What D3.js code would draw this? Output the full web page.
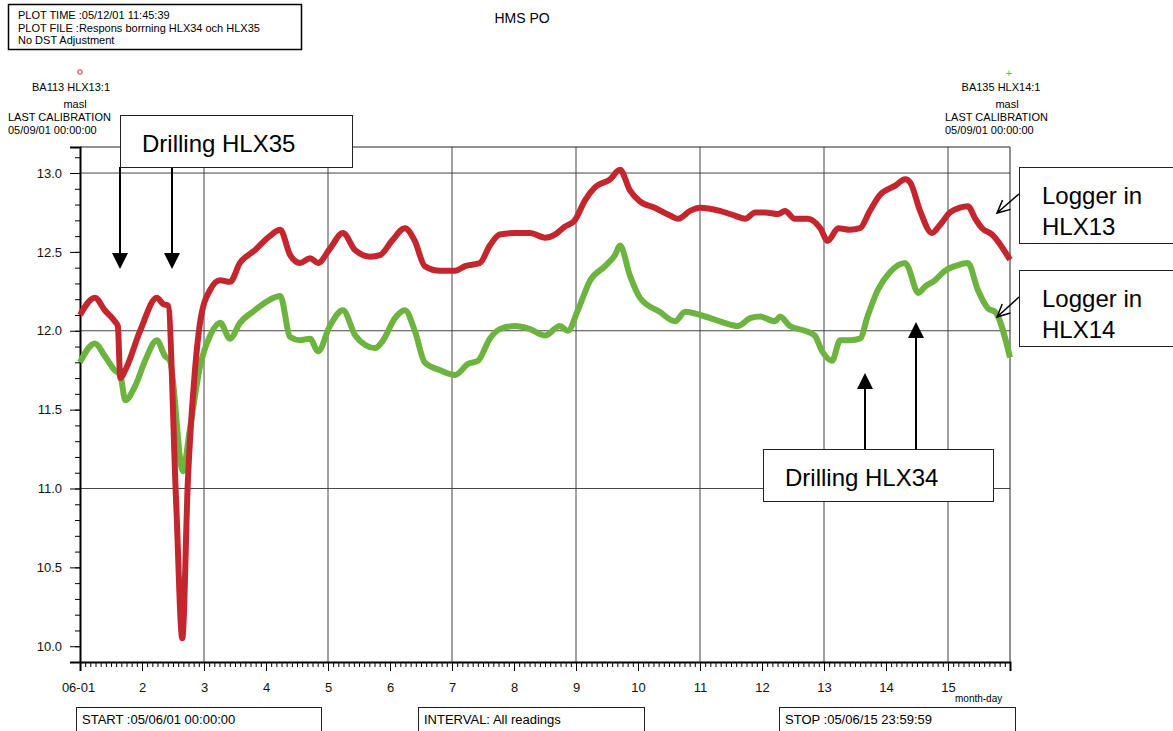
<!DOCTYPE html>
<html>
<head>
<meta charset="utf-8">
<script src="https://cdn.jsdelivr.net/npm/d3@7"></script>
<style>
  body { margin: 0; background: #fff; }
  svg { font-family: "Liberation Sans", Arial, sans-serif; }
</style>
</head>
<body>
<div id="chart"></div>
<script>
// day of June (fractional) and water level (masl)
const redDays = [1.00,1.24,1.40,1.56,1.61,1.65,1.73,1.97,2.24,2.34,2.42,2.55,2.65,2.74,2.84,2.94,3.10,3.26,3.42,3.58,3.82,4.06,4.23,4.39,4.55,4.71,4.84,5.03,5.24,5.44,5.68,5.84,6.03,6.24,6.40,6.56,6.81,7.05,7.21,7.45,7.61,7.77,8.02,8.26,8.50,8.66,8.82,8.98,9.15,9.31,9.55,9.71,9.87,10.03,10.27,10.52,10.65,10.84,11.00,11.32,11.56,11.73,11.89,12.05,12.26,12.37,12.53,12.74,12.94,13.06,13.23,13.42,13.58,13.74,13.90,14.15,14.31,14.39,14.55,14.74,14.87,15.03,15.19,15.32,15.44,15.55,15.71,16.00];
const redLevels = [12.10,12.21,12.13,12.06,12.03,11.70,11.75,12.00,12.21,12.17,12.16,10.92,10.05,11.05,11.68,12.06,12.26,12.32,12.31,12.43,12.51,12.60,12.64,12.48,12.43,12.46,12.43,12.52,12.62,12.51,12.47,12.48,12.57,12.65,12.57,12.41,12.38,12.38,12.41,12.43,12.54,12.61,12.62,12.62,12.59,12.61,12.66,12.70,12.83,12.91,12.96,13.02,12.89,12.82,12.78,12.73,12.71,12.76,12.78,12.76,12.73,12.71,12.75,12.75,12.74,12.76,12.71,12.71,12.65,12.57,12.65,12.64,12.65,12.76,12.86,12.92,12.96,12.94,12.76,12.62,12.67,12.75,12.78,12.79,12.71,12.65,12.61,12.45];

const greenDays = [1.00,1.24,1.40,1.56,1.65,1.73,1.89,2.05,2.24,2.37,2.45,2.66,2.77,2.94,3.10,3.26,3.42,3.58,3.82,4.03,4.23,4.39,4.55,4.71,4.84,5.03,5.24,5.44,5.60,5.76,5.89,6.08,6.24,6.40,6.56,6.81,7.05,7.26,7.42,7.61,7.77,8.02,8.26,8.50,8.74,8.87,9.03,9.23,9.47,9.63,9.71,9.87,10.03,10.35,10.60,10.76,11.00,11.32,11.61,11.81,11.97,12.21,12.29,12.45,12.69,12.85,12.97,13.13,13.26,13.42,13.58,13.71,13.87,14.06,14.31,14.35,14.52,14.63,14.79,14.95,15.11,15.32,15.48,15.65,15.76,16.00];
const greenLevels = [11.80,11.92,11.84,11.75,11.72,11.56,11.65,11.81,11.94,11.84,11.81,11.11,11.37,11.78,11.97,12.05,11.95,12.05,12.13,12.19,12.22,11.96,11.94,11.95,11.87,12.03,12.13,11.97,11.91,11.89,11.94,12.08,12.13,12.00,11.80,11.75,11.72,11.79,11.81,11.95,12.01,12.03,12.01,11.97,12.03,12.00,12.13,12.32,12.41,12.48,12.54,12.35,12.21,12.12,12.06,12.12,12.10,12.06,12.03,12.08,12.09,12.06,12.09,12.03,12.00,11.97,11.87,11.81,11.94,11.94,11.95,12.10,12.26,12.37,12.43,12.41,12.24,12.28,12.32,12.38,12.41,12.43,12.26,12.14,12.12,11.83];

const xTickDays = [1,2,3,4,5,6,7,8,9,10,11,12,13,14,15];
const xTickLabels = ["06-01","2","3","4","5","6","7","8","9","10","11","12","13","14","15"];
const xGridDays = [3,5,7,9,11,13,15];
const yMajorTicks = [10.0,10.5,11.0,11.5,12.0,12.5,13.0];
const yGridValues = [11.0,12.0,13.0];

const headerLines = ["PLOT TIME :05/12/01 11:45:39","PLOT FILE :Respons borrning HLX34 och HLX35","No DST Adjustment"];

const W = 1173, H = 731;
const pLeft = 80, pRight = 1010, pTop = 147, pBottom = 662;
const redColor = "#c4262e", greenColor = "#6db33f";

const svg = d3.select("#chart").append("svg")
  .attr("width", W).attr("height", H);

const x = d3.scaleLinear().domain([1, 16]).range([pLeft, pRight]);
const y = d3.scaleLinear().domain([9.9, 13.165]).range([pBottom, pTop]);

// grid
svg.append("g").selectAll("line").data(yGridValues).enter().append("line")
  .attr("x1", pLeft).attr("x2", pRight)
  .attr("y1", d => y(d)).attr("y2", d => y(d))
  .attr("stroke", "#444").attr("stroke-width", 1);
svg.append("g").selectAll("line").data(xGridDays).enter().append("line")
  .attr("x1", d => x(d)).attr("x2", d => x(d))
  .attr("y1", pTop).attr("y2", pBottom)
  .attr("stroke", "#444").attr("stroke-width", 1);
// frame top / right
svg.append("path")
  .attr("d", `M${pLeft},${pTop}H${pRight}V${pBottom}`)
  .attr("fill", "none").attr("stroke", "#222").attr("stroke-width", 1);

// y axis, minor + major ticks
const yMinor = d3.range(100, 132).map(v => v / 10);
svg.append("g").attr("transform", `translate(${pLeft},0)`)
  .call(d3.axisLeft(y).tickValues(yMinor).tickSize(5).tickFormat(""))
  .call(g => g.select(".domain").remove());
const yAx = svg.append("g").attr("transform", `translate(${pLeft},0)`)
  .call(d3.axisLeft(y).tickValues(yMajorTicks).tickSize(10).tickPadding(8).tickFormat(d3.format(".1f")));
yAx.select(".domain").attr("stroke-width", 2);
yAx.selectAll("text").attr("font-size", 13).attr("fill", "#111");

// x axis
const xMinor = d3.range(1, 16, 1 / 12);
svg.append("g").attr("transform", `translate(0,${pBottom})`)
  .call(d3.axisBottom(x).tickValues(xMinor).tickSize(5).tickFormat(""))
  .call(g => g.select(".domain").remove());
const xAx = svg.append("g").attr("transform", `translate(0,${pBottom})`)
  .call(d3.axisBottom(x).tickValues(xTickDays).tickSize(9).tickPadding(12)
    .tickFormat((d, i) => xTickLabels[i]));
xAx.select(".domain").attr("stroke-width", 2);
xAx.selectAll("text").attr("font-size", 13).attr("fill", "#111");
xAx.select(".tick text").attr("dx", -2);
svg.append("text").attr("x", 955).attr("y", 702).attr("font-size", 10).text("month-day");

// series
const line = d3.line().x(d => x(d[0])).y(d => y(d[1])).curve(d3.curveMonotoneX);
svg.append("path").datum(d3.zip(greenDays, greenLevels))
  .attr("d", line).attr("fill", "none").attr("stroke", greenColor)
  .attr("stroke-width", 6).attr("stroke-linejoin", "round");
svg.append("path").datum(d3.zip(redDays, redLevels))
  .attr("d", line).attr("fill", "none").attr("stroke", redColor)
  .attr("stroke-width", 6).attr("stroke-linejoin", "round");

// header box
svg.append("rect").attr("x", 8.5).attr("y", 4.5).attr("width", 293).attr("height", 45)
  .attr("fill", "none").attr("stroke", "#000").attr("stroke-width", 1.5);
svg.append("g").selectAll("text").data(headerLines).enter().append("text")
  .attr("x", 18).attr("y", (d, i) => 19 + i * 12.5).attr("font-size", 11).text(d => d);
svg.append("text").attr("x", 522).attr("y", 23).attr("text-anchor", "middle")
  .attr("font-size", 14).text("HMS PO");

// series labels
svg.append("circle").attr("cx", 80).attr("cy", 72).attr("r", 2.3)
  .attr("fill", "none").attr("stroke", redColor).attr("stroke-width", 1);
svg.append("text").attr("x", 71).attr("y", 91).attr("text-anchor", "middle").attr("font-size", 11).text("BA113 HLX13:1");
svg.append("text").attr("x", 75).attr("y", 108).attr("text-anchor", "middle").attr("font-size", 11).text("masl");
svg.append("text").attr("x", 8).attr("y", 121).attr("font-size", 11).text("LAST CALIBRATION");
svg.append("text").attr("x", 8).attr("y", 134).attr("font-size", 11).text("05/09/01 00:00:00");

svg.append("text").attr("x", 1009).attr("y", 77).attr("text-anchor", "middle")
  .attr("font-size", 11).attr("fill", greenColor).text("+");
svg.append("text").attr("x", 1001).attr("y", 91).attr("text-anchor", "middle").attr("font-size", 11).text("BA135 HLX14:1");
svg.append("text").attr("x", 1007).attr("y", 108).attr("text-anchor", "middle").attr("font-size", 11).text("masl");
svg.append("text").attr("x", 945).attr("y", 121).attr("font-size", 11).text("LAST CALIBRATION");
svg.append("text").attr("x", 945).attr("y", 134).attr("font-size", 11).text("05/09/01 00:00:00");

// annotations
function box(x0, y0, w, h) {
  svg.append("rect").attr("x", x0 + 0.5).attr("y", y0 + 0.5).attr("width", w).attr("height", h)
    .attr("fill", "#fff").attr("stroke", "#222").attr("stroke-width", 1);
}
function solidArrow(x0, y1, y2) {
  // line from y1 to tip y2 with filled triangle head
  const dir = y2 > y1 ? 1 : -1;
  svg.append("line").attr("x1", x0).attr("x2", x0).attr("y1", y1).attr("y2", y2 - dir * 14)
    .attr("stroke", "#000").attr("stroke-width", 2);
  svg.append("path")
    .attr("d", `M${x0},${y2}L${x0 - 8},${y2 - dir * 16}L${x0 + 8},${y2 - dir * 16}Z`)
    .attr("fill", "#000");
}
function openArrow(x1, y1, x2, y2) {
  const a = Math.atan2(y1 - y2, x1 - x2);
  const len = 14, spread = 0.45;
  svg.append("path")
    .attr("d", `M${x1},${y1}L${x2},${y2}` +
      `M${x2 + len * Math.cos(a - spread)},${y2 + len * Math.sin(a - spread)}L${x2},${y2}` +
      `L${x2 + len * Math.cos(a + spread)},${y2 + len * Math.sin(a + spread)}`)
    .attr("fill", "none").attr("stroke", "#000").attr("stroke-width", 1.5);
}

solidArrow(120, 167, 269);
solidArrow(172, 167, 269);
box(120, 115, 232, 52);
svg.append("text").attr("x", 142).attr("y", 152).attr("font-size", 24).text("Drilling HLX35");

solidArrow(865, 449, 373);
solidArrow(916, 449, 322);
box(763, 449, 230, 52);
svg.append("text").attr("x", 785).attr("y", 486).attr("font-size", 24).text("Drilling HLX34");

box(1019, 167, 160, 76);
svg.append("text").attr("x", 1042).attr("y", 204).attr("font-size", 24).text("Logger in");
svg.append("text").attr("x", 1042).attr("y", 235).attr("font-size", 24).text("HLX13");
openArrow(1019, 194, 997, 213);

box(1019, 270, 160, 76);
svg.append("text").attr("x", 1042).attr("y", 307).attr("font-size", 24).text("Logger in");
svg.append("text").attr("x", 1042).attr("y", 338).attr("font-size", 24).text("HLX14");
openArrow(1019, 297, 997, 317);

// footer boxes
const footer = [[76, 245, "START :05/06/01 00:00:00"], [418, 226, "INTERVAL: All readings"], [779, 236, "STOP :05/06/15 23:59:59"]];
footer.forEach(([fx, fw, t]) => {
  svg.append("rect").attr("x", fx + 0.5).attr("y", 707.5).attr("width", fw).attr("height", 24)
    .attr("fill", "none").attr("stroke", "#222").attr("stroke-width", 1);
  svg.append("text").attr("x", fx + 6).attr("y", 724).attr("font-size", 13).text(t);
});
</script>
</body>
</html>
